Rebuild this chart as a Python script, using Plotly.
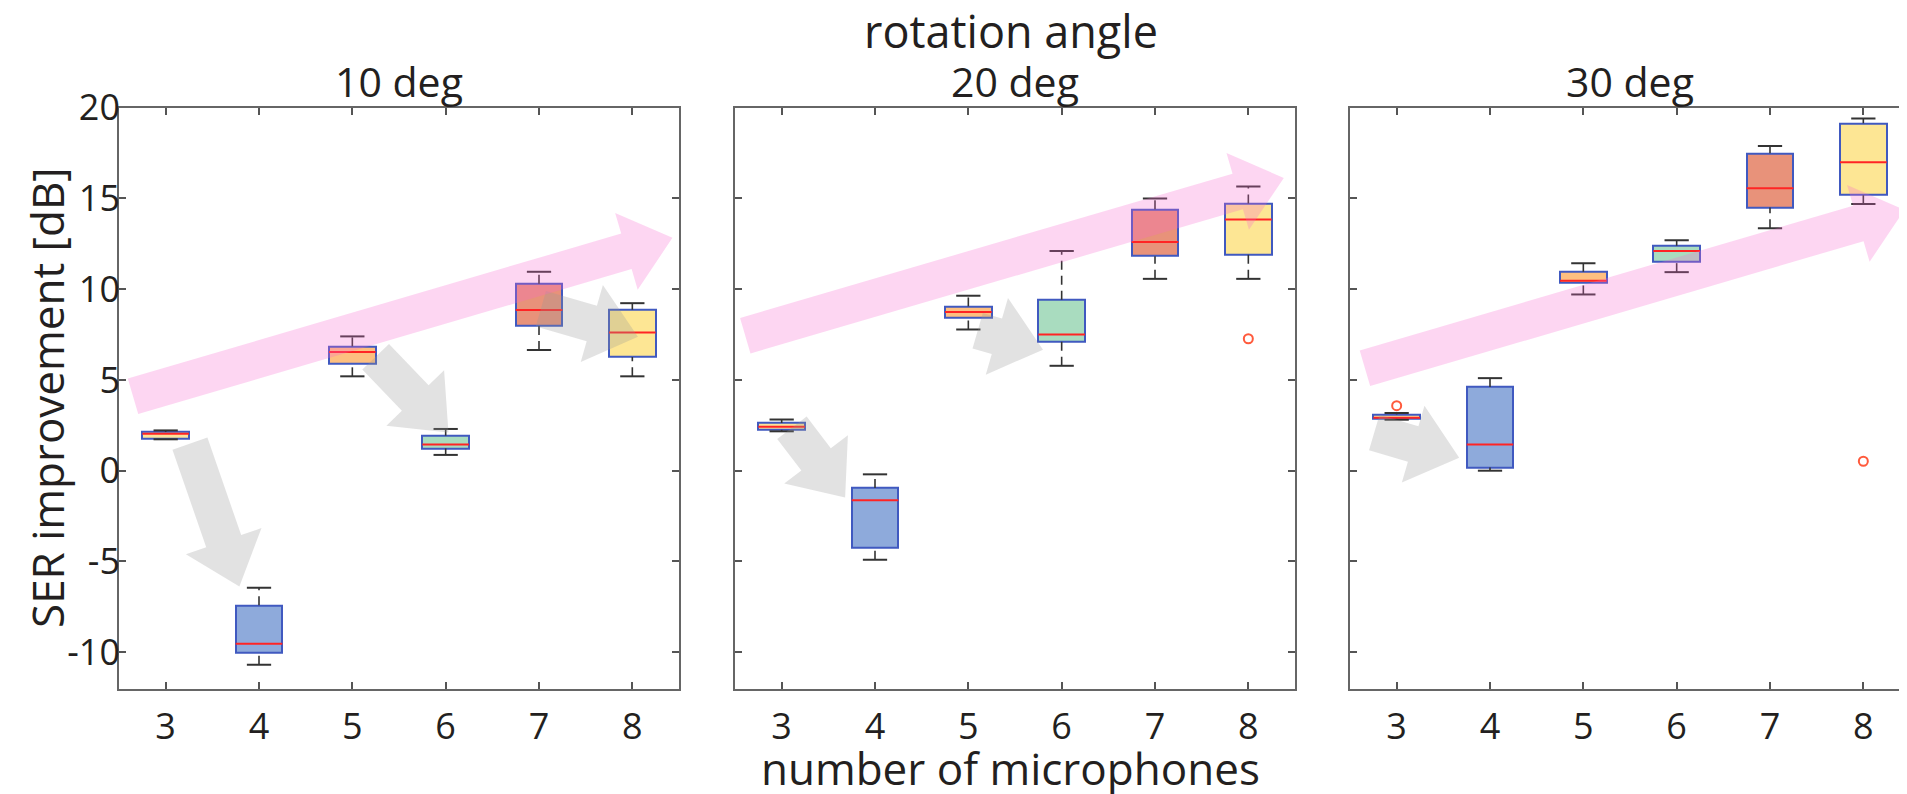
import math
import plotly.graph_objects as go

# ---------------- data ----------------
mics = [3, 4, 5, 6, 7, 8]
panel_titles = ["10 deg", "20 deg", "30 deg"]

lower_10 = [1.73, -10.69, 5.20, 0.87, 6.65, 5.20]
q1_10 = [1.75, -10.03, 5.88, 1.23, 8.00, 6.26]
med_10 = [2.03, -9.53, 6.54, 1.45, 8.85, 7.62]
q3_10 = [2.13, -7.42, 6.85, 1.93, 10.30, 8.87]
upper_10 = [2.22, -6.45, 7.40, 2.30, 10.96, 9.23]
out_x_10 = []
out_y_10 = []

lower_20 = [2.17, -4.91, 7.78, 5.78, 10.57, 10.57]
q1_20 = [2.25, -4.25, 8.44, 7.10, 11.82, 11.91]
med_20 = [2.42, -1.63, 8.74, 7.51, 12.60, 13.84]
q3_20 = [2.63, -0.95, 9.05, 9.42, 14.40, 14.72]
upper_20 = [2.82, -0.20, 9.64, 12.11, 15.00, 15.66]
out_x_20 = [8]
out_y_20 = [7.27]

lower_30 = [2.81, 0.00, 9.71, 10.94, 13.36, 14.70]
q1_30 = [2.88, 0.17, 10.37, 11.53, 14.50, 15.18]
med_30 = [2.92, 1.45, 10.46, 12.11, 15.56, 16.99]
q3_30 = [3.10, 4.61, 10.96, 12.39, 17.49, 19.14]
upper_30 = [3.18, 5.10, 11.43, 12.70, 17.89, 19.41]
out_x_30 = [3, 8]
out_y_30 = [3.58, 0.52]

y_tick_vals = [-10, -5, 0, 5, 10, 15, 20]
y_tick_text = ["-10", "-5", "0", "5", "10", "15", "20"]

# trend arrows (panel, x_from, y_from, x_to, y_to) in data units
pink_arrows = [
    (0, 2.65, 4.10, 8.43, 12.83),
    (1, 2.61, 7.44, 8.38, 16.13),
    (2, 2.66, 5.64, 8.44, 14.37),
]
gray_arrows = [
    (0, 3.26, 1.49, 3.79, -6.38),
    (0, 5.25, 6.28, 6.03, 2.10),
    (0, 7.02, 8.92, 8.06, 7.38),
    (1, 3.11, 2.37, 3.68, -1.48),
    (1, 5.10, 7.71, 5.80, 6.67),
    (2, 2.76, 2.10, 3.67, 0.72),
]

panels = [
    (lower_10, q1_10, med_10, q3_10, upper_10, out_x_10, out_y_10),
    (lower_20, q1_20, med_20, q3_20, upper_20, out_x_20, out_y_20),
    (lower_30, q1_30, med_30, q3_30, upper_30, out_x_30, out_y_30),
]

# ---------------- styling / layout ----------------
OFF = 8                      # default page body margin
W, H = 1907 - OFF, 794 - OFF  # figure size so it ends at the window edge
FONT = "Open Sans"
TXT = "#231f20"
box_colors = ["#fbe39a", "#8eaadb", "#fdbf80", "#a9dcbf", "#e8927a", "#fde694"]
edge = "#4059c0"
med_col = "#ff2424"
XMIN, XMAX = 2.5, 8.5
YMIN, YMAX = -12, 20
# target positions in window pixels
panel_left_px = [119, 735, 1350]
panel_w_px = 560
top_px, bot_px = 107.7, 688.5
ux = panel_w_px / (XMAX - XMIN)
uy = (bot_px - top_px) / (YMAX - YMIN)


def fx(px):
    return (px - OFF) / W


def fy(py):
    return 1 - (py - OFF) / H


BOXW = 0.5
CAPW = 0.26

fig = go.Figure()

for i, (lo, q1, md, q3, up, ox, oy) in enumerate(panels):
    xa = "x" if i == 0 else f"x{i+1}"
    ya = "y" if i == 0 else f"y{i+1}"
    fig.add_trace(go.Bar(
        x=mics, y=[b - a for a, b in zip(q1, q3)], base=q1, width=BOXW,
        marker=dict(color=box_colors, line=dict(color=edge, width=2)),
        xaxis=xa, yaxis=ya, showlegend=False, hoverinfo="skip"))
    wx, wy = [], []
    for m, a, b, c, d in zip(mics, lo, q1, q3, up):
        wx += [m, m, None, m, m, None]
        wy += [c, d, None, a, b, None]
    fig.add_trace(go.Scatter(x=wx, y=wy, mode="lines",
                             line=dict(color="#333333", width=1.6, dash="9px,6px"),
                             xaxis=xa, yaxis=ya, showlegend=False, hoverinfo="skip"))
    cx, cy = [], []
    for m, a, d in zip(mics, lo, up):
        cx += [m - CAPW / 2, m + CAPW / 2, None, m - CAPW / 2, m + CAPW / 2, None]
        cy += [d, d, None, a, a, None]
    fig.add_trace(go.Scatter(x=cx, y=cy, mode="lines",
                             line=dict(color="#333333", width=2),
                             xaxis=xa, yaxis=ya, showlegend=False, hoverinfo="skip"))
    mx, my = [], []
    for m, v in zip(mics, md):
        mx += [m - BOXW / 2, m + BOXW / 2, None]
        my += [v, v, None]
    fig.add_trace(go.Scatter(x=mx, y=my, mode="lines",
                             line=dict(color=med_col, width=2),
                             xaxis=xa, yaxis=ya, showlegend=False, hoverinfo="skip"))
    if ox:
        fig.add_trace(go.Scatter(x=ox, y=oy, mode="markers",
                                 marker=dict(symbol="circle-open", size=9,
                                             color="#ff5a3c", line=dict(width=2)),
                                 xaxis=xa, yaxis=ya, showlegend=False, hoverinfo="skip"))

axis_common = dict(showline=True, linecolor="#666666", linewidth=1.6, mirror="ticks",
                   ticks="inside", ticklen=7, tickwidth=1.5, tickcolor="#555555",
                   showgrid=False, zeroline=False,
                   tickfont=dict(family=FONT, size=36, color=TXT))

layout = dict(width=W, height=H, margin=dict(l=0, r=0, t=0, b=0, pad=0, autoexpand=False),
              paper_bgcolor="white", plot_bgcolor="white", bargap=0, barmode="overlay")

for i in range(3):
    x0 = panel_left_px[i]
    x1 = min(x0 + panel_w_px, 1907)
    xmax_vis = XMIN + (x1 - x0) / ux
    xk = "xaxis" if i == 0 else f"xaxis{i+1}"
    yk = "yaxis" if i == 0 else f"yaxis{i+1}"
    layout[xk] = dict(axis_common, domain=[fx(x0), min(fx(x1), 1.0)], range=[XMIN, xmax_vis],
                      tickvals=mics, ticktext=[str(m) for m in mics],
                      anchor="y" if i == 0 else f"y{i+1}", ticklabelstandoff=5)
    layout[yk] = dict(axis_common, domain=[fy(bot_px), fy(top_px)],
                      range=[YMIN, YMAX], tickvals=y_tick_vals, ticktext=y_tick_text,
                      showticklabels=(i == 0), anchor="x" if i == 0 else f"x{i+1}",
                      ticklabelstandoff=-10)

fig.update_layout(**layout)


def to_px(panel, x, y):
    px = panel_left_px[panel] + (x - XMIN) * ux
    py = top_px + (YMAX - y) * uy
    return px, py


def arrow_path(panel, xa, ya, xb, yb, shaft=37, head_w=80, head_l=48):
    tx, ty = to_px(panel, xa, ya)
    hx, hy = to_px(panel, xb, yb)
    dx, dy = hx - tx, hy - ty
    L = math.hypot(dx, dy)
    ux_, uy_ = dx / L, dy / L
    nx, ny = -uy_, ux_
    bx, by = hx - ux_ * head_l, hy - uy_ * head_l
    pts = [
        (tx + nx * shaft / 2, ty + ny * shaft / 2),
        (bx + nx * shaft / 2, by + ny * shaft / 2),
        (bx + nx * head_w / 2, by + ny * head_w / 2),
        (hx, hy),
        (bx - nx * head_w / 2, by - ny * head_w / 2),
        (bx - nx * shaft / 2, by - ny * shaft / 2),
        (tx - nx * shaft / 2, ty - ny * shaft / 2),
    ]
    return "M " + " L ".join(f"{fx(px):.5f},{fy(py):.5f}" for px, py in pts) + " Z"


shapes = []
for (p, xa, ya, xb, yb) in gray_arrows:
    shapes.append(dict(type="path", path=arrow_path(p, xa, ya, xb, yb), xref="paper", yref="paper",
                       fillcolor="rgba(150,150,150,0.28)", line=dict(width=0), layer="above"))
for (p, xa, ya, xb, yb) in pink_arrows:
    shapes.append(dict(type="path", path=arrow_path(p, xa, ya, xb, yb), xref="paper", yref="paper",
                       fillcolor="rgba(247,100,206,0.265)", line=dict(width=0), layer="above"))

annotations = []
for i, t in enumerate(panel_titles):
    cx = panel_left_px[i] + panel_w_px / 2
    annotations.append(dict(text=t, x=fx(cx), y=fy(81), xref="paper", yref="paper",
                            xanchor="center", yanchor="middle", showarrow=False,
                            font=dict(family=FONT, size=41, color=TXT)))
annotations.append(dict(text="rotation angle", x=fx(1011), y=fy(31), xref="paper", yref="paper",
                        xanchor="center", yanchor="middle", showarrow=False,
                        font=dict(family=FONT, size=45, color=TXT)))
annotations.append(dict(text="number of microphones", x=fx(1010), y=fy(768), xref="paper",
                        yref="paper", xanchor="center", yanchor="middle", showarrow=False,
                        font=dict(family=FONT, size=44, color=TXT)))
annotations.append(dict(text="SER improvement [dB]", x=fx(47), y=fy(398), xref="paper",
                        yref="paper", xanchor="center", yanchor="middle", showarrow=False,
                        textangle=-90, font=dict(family=FONT, size=44, color=TXT)))

fig.update_layout(shapes=shapes, annotations=annotations)
fig.write_html("out.html")
